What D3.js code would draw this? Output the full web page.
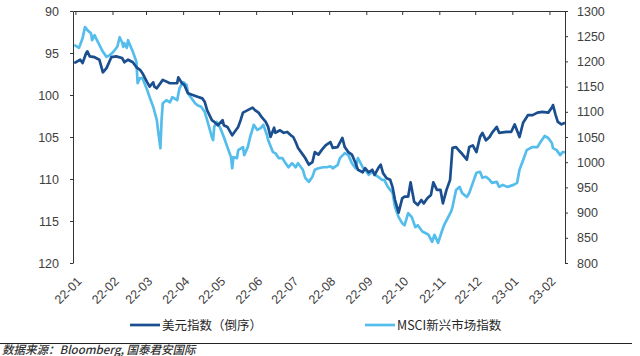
<!DOCTYPE html>
<html>
<head>
<meta charset="utf-8">
<script src="https://cdn.jsdelivr.net/npm/d3@7"></script>
<style>
  html, body { margin: 0; padding: 0; background: #fff; }
  svg { display: block; }
</style>
</head>
<body>
<div id="chart"></div>
<script>
// ---------------- DATA ----------------
const seriesNames = ["美元指数（倒序）", "MSCI新兴市场指数"];
const leftTicks = [90, 95, 100, 105, 110, 115, 120];
const rightTicks = [800, 850, 900, 950, 1000, 1050, 1100, 1150, 1200, 1250, 1300];
const sourceText = "数据来源：Bloomberg, 国泰君安国际";

const dxyDates = ["2021-12-31","2022-01-05","2022-01-07","2022-01-10","2022-01-11","2022-01-13","2022-01-17","2022-01-21","2022-01-24","2022-01-27","2022-01-31","2022-02-04","2022-02-09","2022-02-11","2022-02-14","2022-02-18","2022-02-21","2022-02-24","2022-02-26","2022-03-02","2022-03-04","2022-03-07","2022-03-08","2022-03-10","2022-03-15","2022-03-21","2022-03-27","2022-03-28","2022-03-31","2022-04-02","2022-04-05","2022-04-09","2022-04-13","2022-04-17","2022-04-19","2022-04-21","2022-04-25","2022-04-27","2022-04-30","2022-05-04","2022-05-05","2022-05-08","2022-05-12","2022-05-15","2022-05-17","2022-05-19","2022-05-21","2022-05-25","2022-05-29","2022-05-31","2022-06-03","2022-06-06","2022-06-09","2022-06-11","2022-06-13","2022-06-16","2022-06-17","2022-06-21","2022-06-24","2022-06-27","2022-06-30","2022-07-02","2022-07-04","2022-07-06","2022-07-10","2022-07-12","2022-07-15","2022-07-18","2022-07-20","2022-07-23","2022-07-26","2022-07-29","2022-08-02","2022-08-04","2022-08-08","2022-08-12","2022-08-14","2022-08-17","2022-08-20","2022-08-23","2022-08-25","2022-08-29","2022-08-31","2022-09-03","2022-09-06","2022-09-08","2022-09-11","2022-09-13","2022-09-15","2022-09-18","2022-09-21","2022-09-23","2022-09-25","2022-09-28","2022-10-01","2022-10-03","2022-10-06","2022-10-08","2022-10-11","2022-10-14","2022-10-17","2022-10-19","2022-10-22","2022-10-25","2022-10-27","2022-10-30","2022-11-02","2022-11-04","2022-11-07","2022-11-10","2022-11-12","2022-11-15","2022-11-18","2022-11-20","2022-11-24","2022-11-26","2022-11-29","2022-12-02","2022-12-05","2022-12-07","2022-12-10","2022-12-13","2022-12-15","2022-12-19","2022-12-21","2022-12-27","2022-12-31","2023-01-03","2023-01-07","2023-01-10","2023-01-14","2023-01-18","2023-01-22","2023-01-26","2023-01-31","2023-02-03","2023-02-04","2023-02-06","2023-02-08","2023-02-11","2023-02-14"];
const dxyValues = [96.2,95.8,96.2,95.0,94.8,95.4,95.5,95.8,97.3,96.8,95.5,95.4,95.6,96.1,95.8,96.1,96.7,97.0,97.4,98.5,99.0,98.5,99.0,99.2,98.2,98.6,98.6,97.9,98.6,98.8,99.8,100.0,100.2,100.4,100.8,101.8,103.0,103.2,103.6,103.0,103.6,103.8,104.8,104.2,103.8,103.0,102.1,101.8,101.5,101.8,102.1,102.7,103.2,103.8,105.0,103.9,104.5,104.2,104.5,104.4,104.8,105.0,105.6,106.3,107.1,107.5,108.3,108.0,106.8,107.1,106.5,106.0,105.6,106.3,106.2,105.1,106.2,106.8,107.1,108.1,108.9,109.2,108.7,109.2,108.9,109.5,108.7,108.3,109.3,109.9,110.1,111.0,112.5,114.0,112.3,112.1,112.1,110.4,112.7,113.1,112.5,112.9,112.3,111.9,110.4,111.3,111.3,112.9,111.3,110.1,106.3,106.2,106.7,107.0,107.7,106.2,106.0,106.8,105.0,104.5,105.4,105.0,104.5,103.8,104.5,104.4,104.4,103.5,105.0,103.3,102.4,102.4,102.1,102.0,102.1,101.5,101.2,102.3,103.2,103.5,103.3];

const msciDates = ["2021-12-31","2022-01-04","2022-01-05","2022-01-07","2022-01-09","2022-01-11","2022-01-14","2022-01-15","2022-01-17","2022-01-19","2022-01-21","2022-01-24","2022-01-27","2022-01-30","2022-02-01","2022-02-05","2022-02-07","2022-02-09","2022-02-10","2022-02-11","2022-02-13","2022-02-14","2022-02-15","2022-02-18","2022-02-21","2022-02-22","2022-02-24","2022-02-26","2022-03-02","2022-03-04","2022-03-07","2022-03-10","2022-03-11","2022-03-13","2022-03-14","2022-03-15","2022-03-18","2022-03-21","2022-03-23","2022-03-27","2022-03-29","2022-04-01","2022-04-04","2022-04-05","2022-04-08","2022-04-11","2022-04-13","2022-04-16","2022-04-19","2022-04-21","2022-04-25","2022-04-26","2022-04-27","2022-04-29","2022-05-02","2022-05-05","2022-05-08","2022-05-11","2022-05-12","2022-05-13","2022-05-16","2022-05-17","2022-05-21","2022-05-22","2022-05-25","2022-05-27","2022-05-30","2022-06-02","2022-06-05","2022-06-07","2022-06-10","2022-06-11","2022-06-15","2022-06-17","2022-06-20","2022-06-23","2022-06-25","2022-06-28","2022-07-01","2022-07-04","2022-07-06","2022-07-10","2022-07-12","2022-07-15","2022-07-18","2022-07-20","2022-07-23","2022-07-27","2022-07-30","2022-08-02","2022-08-04","2022-08-08","2022-08-10","2022-08-14","2022-08-17","2022-08-20","2022-08-23","2022-08-25","2022-08-29","2022-08-31","2022-09-03","2022-09-06","2022-09-08","2022-09-11","2022-09-14","2022-09-16","2022-09-19","2022-09-23","2022-09-25","2022-09-28","2022-10-01","2022-10-03","2022-10-06","2022-10-09","2022-10-12","2022-10-14","2022-10-18","2022-10-20","2022-10-23","2022-10-26","2022-10-28","2022-10-31","2022-11-03","2022-11-05","2022-11-08","2022-11-11","2022-11-12","2022-11-15","2022-11-18","2022-11-20","2022-11-24","2022-11-26","2022-11-29","2022-12-02","2022-12-05","2022-12-07","2022-12-10","2022-12-13","2022-12-15","2022-12-19","2022-12-21","2022-12-24","2022-12-28","2023-01-02","2023-01-05","2023-01-07","2023-01-10","2023-01-13","2023-01-16","2023-01-18","2023-01-22","2023-01-24","2023-01-28","2023-01-31","2023-02-03","2023-02-04","2023-02-07","2023-02-10","2023-02-12","2023-02-14"];
const msciValues = [1233,1227,1233,1246,1268,1262,1256,1242,1252,1242,1233,1219,1209,1213,1217,1229,1248,1238,1229,1236,1227,1242,1236,1219,1199,1157,1167,1167,1143,1129,1110,1084,1064,1028,1084,1117,1123,1119,1129,1123,1147,1159,1153,1137,1127,1117,1113,1110,1100,1084,1050,1044,1070,1080,1068,1050,1030,1010,988,1010,1008,1024,1030,1014,1030,1050,1074,1064,1068,1074,1054,1044,1020,1018,1008,1008,1000,990,998,990,998,985,969,961,971,985,988,990,990,992,988,994,1008,1018,1014,998,988,1008,990,985,975,981,975,971,965,965,951,939,911,891,879,875,899,891,871,875,862,860,856,842,856,840,862,875,889,903,911,945,951,939,931,939,959,979,981,969,971,965,959,961,951,955,951,955,959,985,1004,1024,1028,1030,1030,1038,1052,1048,1038,1028,1024,1014,1020,1020];

// ---------------- CHART ----------------
const W = 640, H = 356;
const plotL = 73, plotR = 565, plotT = 11, plotB = 263;
const darkColor = "#1A4E8E", lightColor = "#55BDEB";
const axisColor = "#333333", textColor = "#404040";
const font = "'Liberation Sans', Arial, sans-serif";
const cjkFont = "'Noto Sans CJK SC', 'Liberation Sans', sans-serif";

const parse = d3.timeParse("%Y-%m-%d");
const dxy = dxyDates.map((d, i) => ({ date: parse(d), value: dxyValues[i] }));
const msci = msciDates.map((d, i) => ({ date: parse(d), value: msciValues[i] }));

const svg = d3.select("#chart").append("svg").attr("width", W).attr("height", H);

const x = d3.scaleTime()
  .domain([new Date(2021, 11, 30), new Date(2023, 1, 14)])
  .range([plotL, plotR]);
const yL = d3.scaleLinear().domain([90, 120]).range([plotT, plotB]);
const yR = d3.scaleLinear().domain([800, 1300]).range([plotB, plotT]);

// lines
const lineL = d3.line().x(d => x(d.date)).y(d => yL(d.value));
const lineR = d3.line().x(d => x(d.date)).y(d => yR(d.value));

svg.append("path").datum(msci).attr("d", lineR)
  .attr("fill", "none").attr("stroke", lightColor).attr("stroke-width", 2.7)
  .attr("stroke-linejoin", "round");
svg.append("path").datum(dxy).attr("d", lineL)
  .attr("fill", "none").attr("stroke", darkColor).attr("stroke-width", 2.7)
  .attr("stroke-linejoin", "round");

// top axis line with month ticks pointing down
const months = d3.timeMonth.range(new Date(2022, 0, 1), new Date(2023, 1, 2));
const topAxis = d3.axisBottom(x).tickValues(months).tickSize(4).tickSizeOuter(0).tickFormat("");
const gTop = svg.append("g").attr("transform", `translate(0,${plotT})`).call(topAxis);

// left axis
const leftAxis = d3.axisLeft(yL).tickValues(leftTicks).tickSize(3).tickSizeOuter(0).tickPadding(11);
const gL = svg.append("g").attr("transform", `translate(${plotL},0)`).call(leftAxis);

// right axis
const rightAxis = d3.axisRight(yR).tickValues(rightTicks).tickSize(3).tickSizeOuter(0)
  .tickPadding(9).tickFormat(d3.format("d"));
const gR = svg.append("g").attr("transform", `translate(${plotR},0)`).call(rightAxis);

[gTop, gL, gR].forEach(g => {
  g.select(".domain").attr("stroke", axisColor).attr("stroke-width", 1);
  g.selectAll(".tick line").attr("stroke", axisColor);
  g.selectAll("text").attr("fill", textColor).style("font-family", font).style("font-size", "12.5px");
});

// rotated month labels at bottom
const fmt = d3.timeFormat("%y-%m");
svg.append("g").selectAll("text").data(months).join("text")
  .attr("transform", d => `translate(${x(d) + 4},${plotB + 16}) rotate(-45)`)
  .attr("text-anchor", "end")
  .attr("dy", "0.35em")
  .attr("fill", textColor)
  .style("font-family", font).style("font-size", "12.5px")
  .text(d => fmt(d));

// legend
const legend = [
  { name: seriesNames[0], color: darkColor, x: 130 },
  { name: seriesNames[1], color: lightColor, x: 365 }
];
const lg = svg.append("g");
legend.forEach(l => {
  lg.append("line").attr("x1", l.x).attr("x2", l.x + 30).attr("y1", 325).attr("y2", 325)
    .attr("stroke", l.color).attr("stroke-width", 2.7);
  lg.append("text").attr("x", l.x + 32).attr("y", 329.5)
    .attr("fill", "#262626")
    .style("font-family", cjkFont).style("font-size", "12.5px")
    .text(l.name);
});

// separator & source
svg.append("line").attr("x1", 0).attr("x2", 632).attr("y1", 343.5).attr("y2", 343.5)
  .attr("stroke", "#222").attr("stroke-width", 1);
svg.append("text").attr("x", 2).attr("y", 353.5)
  .attr("fill", "#333")
  .style("font-family", cjkFont).style("font-size", "11.5px").style("font-style", "italic")
  .style("font-weight", "500")
  .text(sourceText);
</script>
</body>
</html>
